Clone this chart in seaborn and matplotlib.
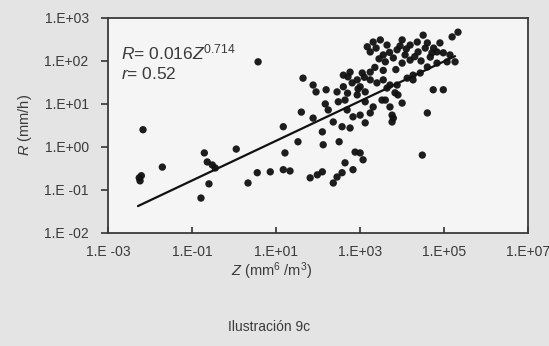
import numpy as np
import pandas as pd
import matplotlib
matplotlib.use("Agg")
import matplotlib.pyplot as plt
import seaborn as sns

# exponentes (log10 Z, log10 R)
z_exp = [-2.17, -2.26, -2.24, -2.21, -1.71, -0.71, -0.64, -0.52, -0.45, -0.60,
         -0.79, 0.05, 0.33, 0.55, 0.57, 0.86, 1.17, 1.33, 1.81, 1.98,
         2.10, 2.36, 2.45, 2.57, 2.64, 2.83, 1.17, 1.52, 1.21, 2.10,
         2.12, 2.50, 2.88, 3.07, 3.00, 3.79, 1.64, 1.88, 1.95, 2.19,
         2.17, 2.45, 2.48, 1.60, 2.36, 2.57, 2.76, 2.83, 3.00, 3.12,
         3.24, 2.69, 2.64, 2.60, 2.60, 2.76, 2.93, 3.05, 3.24, 3.24,
         3.40, 3.55, 3.64, 3.60, 3.71, 3.76, 3.76, 3.90, 4.00, 3.88,
         4.12, 4.26, 4.43, 4.60, 4.83, 5.07, 4.74, 4.98, 4.60, 4.48,
         3.17, 3.31, 3.48, 3.24, 3.55, 3.60, 3.79, 3.88, 4.00, 4.07,
         4.19, 4.19, 4.36, 4.38, 4.50, 4.60, 4.67, 4.83, 4.90, 4.98,
         5.14, 5.26, 5.19, 5.33, 4.00, 3.64, 2.81, 2.93, 2.71, 1.88,
         2.24, 3.00, 3.12, 3.12, 3.31, 3.52, 3.83, 3.71, 4.26, 4.71,
         3.38, 3.45, 3.70, 3.95, 4.10, 4.30, 4.55, 3.10, 2.95, 3.85,
         4.45, 4.75, 3.35, 2.70, 3.55]
r_exp = [0.40, -0.72, -0.79, -0.67, -0.47, -0.14, -0.35, -0.42, -0.49, -0.86,
         -1.19, -0.05, -0.84, -0.60, 1.98, -0.58, -0.53, -0.56, -0.72, -0.65,
         -0.58, -0.84, -0.70, -0.60, -0.37, -0.53, 0.47, 0.12, -0.14, 0.35,
         0.05, 0.12, -0.12, -0.30, -0.14, 0.67, 1.60, 1.44, 1.28, 1.33,
         1.00, 1.28, 1.05, 0.81, 0.58, 0.47, 0.44, 0.70, 0.74, 0.56,
         0.79, 0.86, 1.09, 1.40, 1.67, 1.74, 1.56, 1.72, 1.74, 1.56,
         1.49, 1.56, 1.37, 1.09, 0.93, 0.74, 0.58, 1.21, 1.02, 1.44,
         1.60, 1.56, 1.72, 1.86, 1.95, 1.98, 1.33, 1.33, 0.79, -0.19,
         2.33, 2.44, 2.49, 2.21, 2.14, 1.98, 2.07, 2.26, 1.95, 2.14,
         2.37, 2.02, 2.44, 2.21, 2.60, 2.42, 2.09, 2.21, 2.42, 2.19,
         2.14, 1.98, 2.56, 2.67, 2.49, 2.37, 1.49, 1.21, 1.63, 0.67,
         0.86, 1.40, 1.28, 1.05, 0.93, 1.09, 1.26, 1.44, 1.67, 2.19,
         2.30, 2.05, 2.20, 2.35, 2.28, 2.10, 2.30, 1.62, 1.35, 1.80,
         2.00, 2.30, 1.85, 1.25, 1.78]

# recta de ajuste visible en el grafico
fit_a = 0.48
fit_b = 0.462
fit_z_lim = [10 ** -2.29, 10 ** 5.26]

x_ticks = [1e-3, 1e-1, 1e1, 1e3, 1e5, 1e7]
x_labels = ["1.E -03", "1.E-01", "1.E+01", "1.E+03", "1.E+05", "1.E+07"]
y_ticks = [1e-2, 1e-1, 1e0, 1e1, 1e2, 1e3]
y_labels = ["1.E -02", "1.E -01", "1.E+00", "1.E+01", "1.E+02", "1.E+03"]

df = pd.DataFrame({"Z": 10 ** np.array(z_exp), "R": 10 ** np.array(r_exp)})
fit_z = np.array(fit_z_lim)
df_fit = pd.DataFrame({"Z": fit_z, "R": fit_a * fit_z ** fit_b})

sns.set_theme(style="ticks")
plt.rcParams["font.family"] = ["Liberation Sans", "DejaVu Sans"]
plt.rcParams["mathtext.fontset"] = "custom"
plt.rcParams["mathtext.rm"] = "Liberation Sans"
plt.rcParams["mathtext.it"] = "Liberation Sans:italic"

gris = "#3a3a3a"
fig = plt.figure(figsize=(5.49, 3.46), dpi=100, facecolor="#e4e4e4")
ax = fig.add_axes([0.197, 0.327, 0.765, 0.621])
ax.set_facecolor("#f5f5f5")

sns.scatterplot(data=df, x="Z", y="R", ax=ax, color="#111111", s=28,
                edgecolor="none", alpha=0.95, legend=False)
sns.lineplot(data=df_fit, x="Z", y="R", ax=ax, color="#111111", linewidth=1.6)

ax.set_xscale("log")
ax.set_yscale("log")
ax.set_xlim(1e-3, 1e7)
ax.set_ylim(1e-2, 1e3)
ax.set_xticks(x_ticks)
ax.set_xticklabels(x_labels)
ax.set_yticks(y_ticks)
ax.set_yticklabels(y_labels)
ax.minorticks_off()
ax.tick_params(axis="x", direction="in", length=4, pad=9, labelsize=10, colors=gris)
ax.tick_params(axis="y", direction="out", length=5, pad=9, labelsize=10, colors=gris)
ax.set_xlabel("")
ax.set_ylabel("$R$ (mm/h)", fontsize=10.5, color=gris, labelpad=7)

for sp in ax.spines.values():
    sp.set_visible(True)
    sp.set_color(gris)
    sp.set_linewidth(1.3)

ax.text(0.03, 0.84, "$R$= 0.016$Z^{0.714}$", transform=ax.transAxes,
        fontsize=12.5, color=gris, va="center", ha="left")
ax.text(0.03, 0.74, "$r$= 0.52", transform=ax.transAxes,
        fontsize=12.5, color=gris, va="center", ha="left")

fig.text(0.495, 0.215, "$Z$ (mm$^6$ /m$^3$)", fontsize=10.5, color=gris, ha="center", va="center")
fig.text(0.49, 0.055, "Ilustración 9c", fontsize=10, color=gris, ha="center", va="center")

fig.savefig("out.png", dpi=100, facecolor=fig.get_facecolor())
